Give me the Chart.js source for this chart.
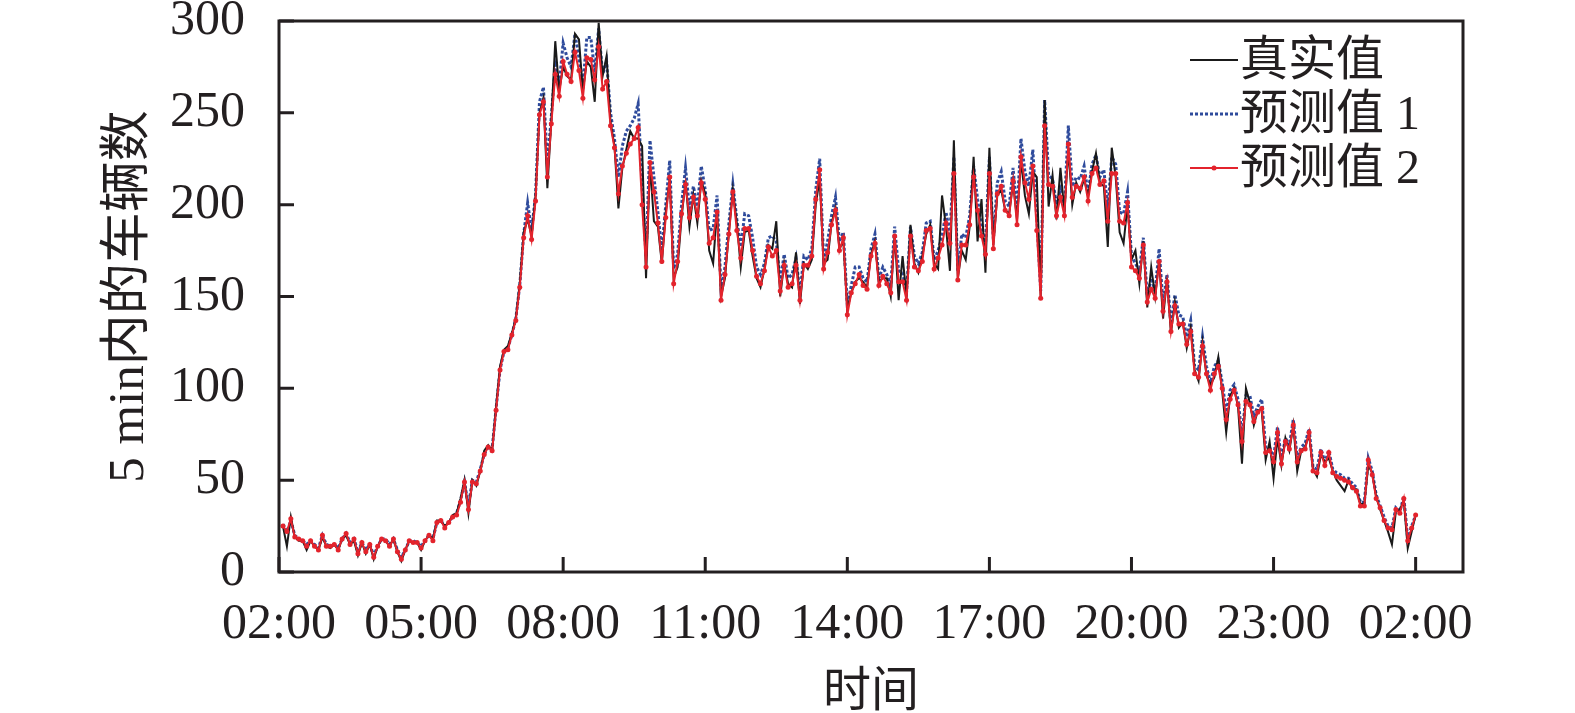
<!DOCTYPE html>
<html>
<head>
<meta charset="utf-8">
<script src="https://cdn.jsdelivr.net/npm/chart.js@4.4.1/dist/chart.umd.min.js"></script>
<style>
html, body { margin: 0; padding: 0; background: #fff; }
#wrap { width: 1575px; height: 713px; }
</style>
</head>
<body>
<div id="wrap"><canvas id="trafficChart" width="1575" height="713"></canvas></div>
<script>
// x = number of 5-min steps after 02:00, one tick every 3 h (36 steps)
const tickLabels = ["02:00", "05:00", "08:00", "11:00", "14:00", "17:00", "20:00", "23:00", "02:00"];
const tickStep = 36;
const yTicks = [0, 50, 100, 150, 200, 250, 300];

const trueVals = [
  25,14,30,19,17,17,12,17,14,12, 19,14,13,15,12,18,20,15,17,9,
  16,10,15,7,14,18,17,14,18,11, 6,12,17,16,16,12,17,20,18,28,
  28,25,27,31,32,40,50,32,50,47, 55,66,69,66,90,112,121,123,130,138,
  157,185,192,183,205,250,258,209,246,289, 262,275,270,268,293,290,262,278,275,256,
  299,270,281,245,232,198,220,230,240,236, 236,232,160,222,191,188,168,196,214,160,
  166,193,213,188,205,190,213,206,175,168, 197,150,160,185,208,190,166,185,186,172,
  160,155,165,178,176,191,150,168,157,155, 174,146,168,165,170,200,214,168,170,190,
  198,176,180,143,152,158,160,158,155,173, 180,158,160,160,150,184,148,172,150,189,
  168,163,172,184,189,168,165,205,188,164, 235,160,175,170,188,226,180,203,163,231,
  178,205,208,197,195,212,192,224,205,195, 218,215,150,257,199,216,192,220,196,230,
  200,212,207,214,205,218,228,212,210,177, 231,215,185,179,200,170,175,157,180,144,
  166,150,170,138,160,130,147,133,136,122, 133,110,104,125,107,102,106,117,98,76,
  96,100,90,59,100,92,80,88,88,61, 71,51,73,58,73,66,80,55,66,68,
  75,56,52,64,60,62,55,50,47,44, 50,45,45,37,37,58,54,41,34,28,
  22,15,33,34,39,13,22,31
];

const pred1Vals = [
  26,22,28,20,18,17,15,17,15,13, 20,15,14,15,13,18,21,16,18,11,
  16,12,15,9,14,18,18,15,18,12, 8,12,17,17,16,14,17,20,18,27,
  28,25,27,30,32,39,49,36,50,49, 56,64,68,67,89,110,120,122,129,138,
  156,184,201,186,205,256,264,222,248,276, 266,288,280,275,293,280,265,291,291,272,
  296,271,278,250,236,215,232,240,243,247, 255,210,172,235,215,196,175,200,224,165,
  173,200,220,198,210,199,221,208,186,187, 205,154,166,190,211,192,177,195,194,182,
  166,162,168,182,183,180,158,173,160,162, 171,152,172,170,176,208,225,170,180,194,
  204,180,185,145,156,166,166,160,158,176, 184,160,166,162,156,188,164,163,152,188,
  172,168,174,190,191,170,175,183,196,184, 226,164,184,182,194,221,203,188,178,226,
  181,212,218,202,199,220,196,236,218,210, 230,193,153,257,216,214,200,208,199,243,
  210,215,214,221,206,222,227,215,219,197, 226,222,196,195,207,172,168,164,182,150,
  160,153,176,146,162,135,151,140,139,128, 137,112,110,128,112,103,112,115,103,87,
  99,102,94,74,96,96,85,90,94,68, 68,62,79,61,73,69,83,62,68,70,
  78,57,56,67,60,66,56,54,53,51, 51,48,46,38,38,62,55,42,36,30,
  25,24,35,33,41,18,25,31
];

const pred2Vals = [
  25,22,29,19,18,17,14,17,14,12, 20,14,14,15,12,18,21,15,18,10,
  16,11,15,8,14,18,17,14,18,11, 7,12,17,16,16,13,17,20,17,27,
  28,24,27,30,31,38,49,34,49,48, 55,64,68,66,88,110,120,121,129,137,
  155,182,194,181,202,249,256,215,244,271, 259,278,271,267,283,273,258,280,279,268,
  286,263,267,243,231,206,221,228,233,236, 242,200,166,223,207,190,169,193,215,157,
  169,195,211,193,204,194,212,203,179,182, 196,148,162,184,207,186,171,187,187,175,
  161,157,164,177,172,175,153,167,155,157, 167,148,167,167,172,203,219,165,174,189,
  197,175,182,140,152,157,162,156,154,172, 179,156,161,157,152,183,158,158,148,183,
  166,164,169,186,187,165,171,178,190,179, 217,159,178,178,189,215,197,183,173,217,
  176,206,210,197,194,213,189,226,212,203, 221,186,149,243,211,210,194,204,194,233,
  204,210,209,215,202,217,220,211,213,191, 217,217,191,190,201,166,164,160,178,147,
  154,149,169,142,158,131,145,135,135,124, 131,108,106,123,108,99,108,112,100,83,
  94,99,91,71,93,91,82,87,89,65, 66,60,76,59,71,67,80,60,66,67,
  76,55,54,65,58,65,54,52,51,50, 49,46,44,36,36,61,53,40,35,28,
  24,23,34,32,40,17,24,31
];

function toPoints(vals) {
    return vals.map((v, k) => ({ x: k + 1, y: v }));
}

const inkColor = "#231f20";
const fontFamily = "'Liberation Serif', 'Noto Sans CJK SC', serif";

// box round the plot and inward tick marks
const framePlugin = {
    id: "frame",
    afterDatasetsDraw(chart) {
        const { ctx, chartArea: a, scales } = chart;
        ctx.save();
        ctx.strokeStyle = inkColor;
        ctx.lineWidth = 3;
        ctx.strokeRect(a.left, a.top, a.right - a.left, a.bottom - a.top);
        ctx.beginPath();
        scales.x.ticks.forEach(t => {
            const px = scales.x.getPixelForValue(t.value);
            ctx.moveTo(px, a.bottom);
            ctx.lineTo(px, a.bottom - 15);
        });
        scales.y.ticks.forEach(t => {
            const py = scales.y.getPixelForValue(t.value);
            ctx.moveTo(a.left, py);
            ctx.lineTo(a.left + 15, py);
        });
        ctx.stroke();
        ctx.restore();
    }
};

// legend in the top right corner, short line sample + label
const legendPlugin = {
    id: "cornerLegend",
    afterDraw(chart) {
        const { ctx, chartArea: a } = chart;
        const x0 = a.right - 273;
        const len = 48;
        const rows = [39, 93, 147];
        ctx.save();
        ctx.font = "48px " + fontFamily;
        ctx.textBaseline = "middle";
        chart.data.datasets.forEach((ds, k) => {
            const y = a.top + rows[k];
            ctx.strokeStyle = ds.borderColor;
            ctx.lineWidth = ds.borderWidth;
            ctx.setLineDash(ds.borderDash || []);
            ctx.beginPath();
            ctx.moveTo(x0, y);
            ctx.lineTo(x0 + len, y);
            ctx.stroke();
            ctx.setLineDash([]);
            if (ds.pointRadius > 0) {
                ctx.fillStyle = ds.pointBackgroundColor;
                ctx.beginPath();
                ctx.arc(x0 + len / 2, y, ds.pointRadius, 0, Math.PI * 2);
                ctx.fill();
            }
            ctx.fillStyle = inkColor;
            ctx.fillText(ds.label, x0 + len + 2, y + 2);
        });
        ctx.restore();
    }
};

let context = document.getElementById("trafficChart").getContext("2d");

new Chart(context, {
    type: "line",
    data: {
        datasets: [{
            label: "真实值",
            data: toPoints(trueVals),
            borderColor: "#1a1a1a",
            borderWidth: 2,
            pointRadius: 0,
            order: 1
        },
        {
            label: "预测值 1",
            data: toPoints(pred1Vals),
            borderColor: "#2f4b9c",
            borderWidth: 3,
            borderDash: [3, 2],
            pointRadius: 0,
            order: 2
        },
        {
            label: "预测值 2",
            data: toPoints(pred2Vals),
            borderColor: "#e3232c",
            borderWidth: 2,
            pointRadius: 2.5,
            pointStyle: "circle",
            pointBackgroundColor: "#e3232c",
            pointBorderWidth: 0,
            order: 0
        }]
    },
    options: {
        responsive: false,
        animation: false,
        devicePixelRatio: 1,
        layout: { padding: { top: 21, right: 112, left: 95, bottom: 0 } },
        plugins: {
            legend: { display: false },
            tooltip: { enabled: false }
        },
        elements: { line: { tension: 0 } },
        scales: {
            x: {
                type: "linear",
                min: 0,
                max: 300,
                afterBuildTicks: scale => {
                    scale.ticks = tickLabels.map((l, k) => ({ value: k * tickStep }));
                },
                afterFit: scale => {
                    scale.height = 141;
                    scale.paddingLeft = 0;
                    scale.paddingRight = 0;
                },
                grid: { display: false },
                border: { display: false },
                ticks: {
                    autoSkip: false,
                    maxRotation: 0,
                    padding: 15,
                    color: inkColor,
                    font: { family: fontFamily, size: 50 },
                    callback: value => tickLabels[Math.round(value / tickStep)]
                },
                title: {
                    display: true,
                    text: "时间",
                    color: inkColor,
                    font: { family: fontFamily, size: 48 },
                    padding: { top: 0, bottom: -9 }
                }
            },
            y: {
                min: 0,
                max: 300,
                afterBuildTicks: scale => {
                    scale.ticks = yTicks.map(v => ({ value: v }));
                },
                afterFit: scale => {
                    scale.width = 184;
                    scale.paddingTop = 0;
                    scale.paddingBottom = 0;
                },
                grid: { display: false },
                border: { display: false },
                ticks: {
                    padding: 26,
                    color: inkColor,
                    font: { family: fontFamily, size: 50 }
                },
                title: {
                    display: true,
                    text: "5 min内的车辆数",
                    color: inkColor,
                    font: { family: fontFamily, size: 51 },
                    padding: { top: 4, bottom: 0 }
                }
            }
        }
    },
    plugins: [framePlugin, legendPlugin]
});
</script>
</body>
</html>
